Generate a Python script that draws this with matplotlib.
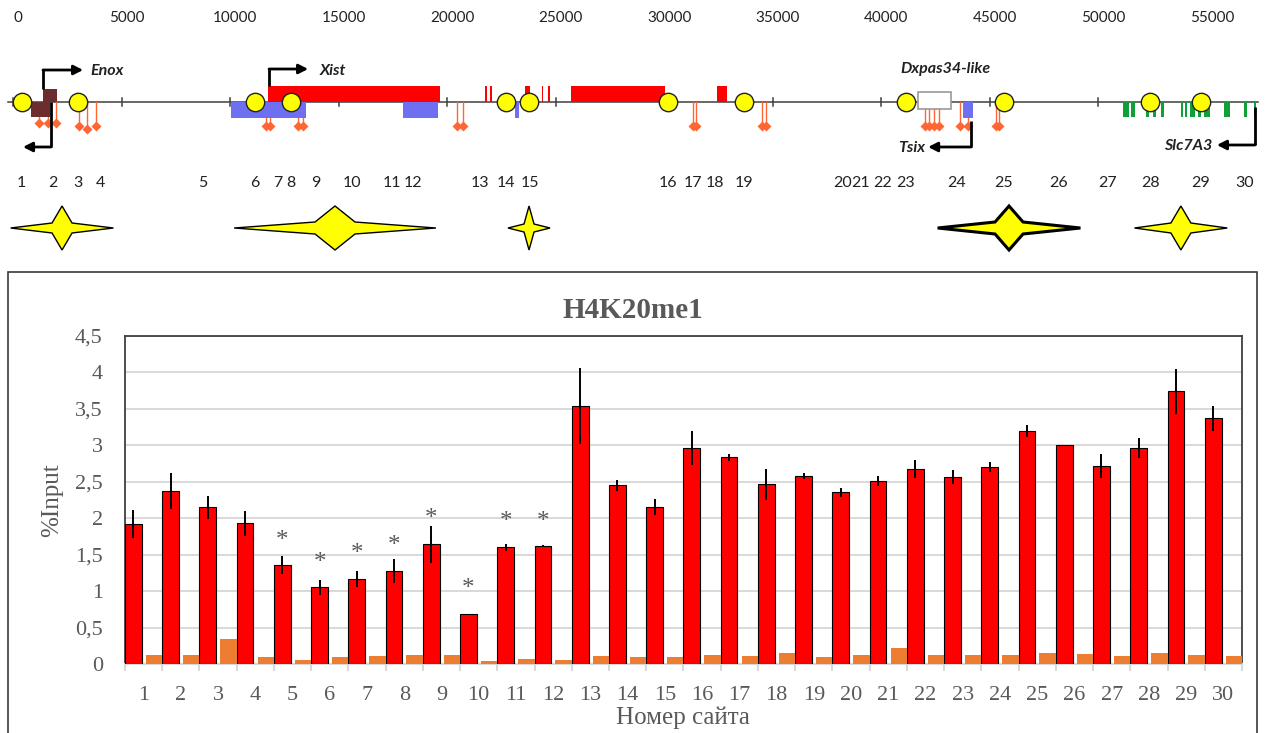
import numpy as np
import matplotlib
matplotlib.use("Agg")
import matplotlib.pyplot as plt
from matplotlib.patches import Rectangle, Polygon

# ---------------- locus map (coordinates in bp) ----------------
scale_marks = [0, 5000, 10000, 15000, 20000, 25000, 30000, 35000, 40000,
               45000, 50000, 55000]
site_bp = [400, 1850, 3000, 4050, 8750, 11150, 12200, 12800, 13950, 15600,
           17450, 18450, 21500, 22700, 23800, 30200, 31350, 32350, 33700,
           38250, 39050, 40050, 41150, 43500, 45650, 48200, 50450, 52400,
           54750, 56750]
site_names = [str(i) for i in range(1, 31)]
circle_sites = [1, 3, 6, 8, 14, 15, 16, 19, 23, 25, 28, 29]

enox_plus = [(1380, 2030)]
enox_minus = [(830, 1700)]
xist_exons = [(11750, 19680), (21750, 21840), (21980, 22070), (23590, 23820),
              (24380, 24420), (24650, 24750), (25710, 30050), (32440, 32900)]
tsix_exons = [(10050, 13500), (17970, 19590), (23130, 23320), (43780, 44240)]
slc7a3_exons = [(51150, 51430), (51520, 51700), (52210, 52350), (52530, 52670),
                (52900, 53040), (53820, 53920), (54010, 54100), (54240, 54470),
                (54610, 54750), (54880, 55160), (55800, 56080), (56730, 56870),
                (57190, 57280)]
dxpas_repeat = (41700, 43230)

pin_bp = [1200, 1610, 1980, 3040, 3410, 3820, 11660, 11840, 13130, 13360,
          20460, 20740, 31340, 31480, 34520, 34700, 42030, 42210, 42440,
          42670, 43640, 44010, 45300, 45440]
pin_end = [123, 123, 123, 126, 129, 126, 126, 126, 126, 126, 126, 126,
           126, 126, 126, 126, 126, 126, 126, 126, 126, 126, 126, 126]

# (label, x of turn, y start, y of horizontal, x of arrow tip)
tss_arrows = [("Enox", 1380, 89, 70, 3230),
              ("", 1750, 102, 147, 460),
              ("Xist", 11800, 86, 69, 13600),
              ("Tsix", 44150, 121, 147, 42170),
              ("Slc7A3", 57230, 107, 145, 55480)]
gene_labels = [("Enox", 3550, 71, "left"), ("Xist", 14150, 71, "left"),
               ("Dxpas34-like", 42950, 69, "center"),
               ("Tsix", 42030, 148, "right"), ("Slc7A3", 55250, 146, "right")]

# enhancer-like regions: centre, half length (bp)
star_center = [2260, 14840, 23780, 45900, 53820]
star_half = [2370, 4650, 970, 3290, 2140]

# ---------------- ChIP values (%Input) ----------------
sites = np.arange(1, 31)
h4k20me1 = [1.92, 2.37, 2.15, 1.93, 1.36, 1.05, 1.17, 1.28, 1.64, 0.68,
            1.60, 1.615, 3.54, 2.45, 2.15, 2.96, 2.835, 2.465, 2.575, 2.355,
            2.515, 2.675, 2.565, 2.70, 3.196, 3.00, 2.71, 2.96, 3.74, 3.37]
h4k20me1_err = [0.19, 0.25, 0.16, 0.17, 0.125, 0.10, 0.11, 0.167, 0.26, 0.01,
                0.045, 0.014, 0.525, 0.07, 0.108, 0.233, 0.046, 0.215, 0.04,
                0.064, 0.069, 0.12, 0.10, 0.07, 0.078, 0.005, 0.165, 0.14,
                0.31, 0.17]
control = [0.12, 0.12, 0.345, 0.09, 0.05, 0.09, 0.105, 0.13, 0.13, 0.04,
           0.075, 0.05, 0.105, 0.10, 0.097, 0.118, 0.11, 0.145, 0.097, 0.13,
           0.223, 0.13, 0.118, 0.13, 0.15, 0.14, 0.105, 0.15, 0.13, 0.105]
sig_sites = [5, 6, 7, 8, 9, 10, 11, 12]
sig_y = [1.78, 1.47, 1.60, 1.71, 2.07, 1.11, 2.03, 2.03]
yticks = [0, 0.5, 1, 1.5, 2, 2.5, 3, 3.5, 4, 4.5]

W, H = 1268, 733
GRAY = "#595959"
SERIF = "Liberation Serif"
SANS = "Lato"


def fig_box(x0, y0, x1, y1):
    return [x0 / W, 1 - y1 / H, (x1 - x0) / W, (y1 - y0) / H]


def px2bp(px):
    return (px - 13) / 0.0217


def star_outline(cx, half_w, cy, half_h, inner_w, inner_h):
    # four-pointed star: long horizontal arms, short vertical ones
    return [(cx + half_w, cy), (cx + inner_w, cy - inner_h), (cx, cy - half_h),
            (cx - inner_w, cy - inner_h), (cx - half_w, cy),
            (cx - inner_w, cy + inner_h), (cx, cy + half_h),
            (cx + inner_w, cy + inner_h)]


fig = plt.figure(figsize=(W / 100, H / 100), dpi=100)

# ---------------- map panel ----------------
am = fig.add_axes(fig_box(0, 0, W, 260))
am.set_xlim(px2bp(0), px2bp(W))
am.set_ylim(260, 0)
am.axis("off")
BP_PER_PX = px2bp(1) - px2bp(0)

LINE_Y = 102
am.plot([px2bp(8), px2bp(1258)], [LINE_Y, LINE_Y], color="#404040", lw=1.1, zorder=1)
for m in scale_marks:
    am.plot([m, m], [LINE_Y - 4, LINE_Y + 4], color="#404040", lw=1.1, zorder=1)
    am.text(m + 250, 18, str(m), ha="center", va="center", fontsize=11,
            family=SANS, color="#222222")

for b, yb in zip(pin_bp, pin_end):
    am.plot([b, b], [LINE_Y, yb], color="#ff6633", lw=1.0, zorder=1.5)
    am.plot(b, yb, marker="D", ms=5.5, color="#ff6633", mec="none", zorder=1.6)


def exon_boxes(spans, y0, h, color, z=2):
    for s, e in spans:
        am.add_patch(Rectangle((s, y0), e - s, h, facecolor=color,
                               edgecolor="none", zorder=z))


exon_boxes(xist_exons, 86, LINE_Y - 86, "#ff0000")
exon_boxes(tsix_exons, LINE_Y, 16, "#6f6ff2")
exon_boxes(slc7a3_exons, LINE_Y, 15, "#10a03a")
exon_boxes(enox_plus, 89, LINE_Y - 89, "#6b2d2d", z=2.2)
exon_boxes(enox_minus, LINE_Y, 15, "#6b2d2d", z=2.2)
am.add_patch(Rectangle((dxpas_repeat[0], 92), dxpas_repeat[1] - dxpas_repeat[0], 17,
                       facecolor="white", edgecolor="#9a9a9a", lw=1.2, zorder=2))

circ_x = [site_bp[s - 1] for s in circle_sites]
am.scatter(circ_x, [LINE_Y] * len(circ_x), s=175, color="#ffff00",
           edgecolors="#222222", linewidths=1.0, zorder=3)

for name, xt, y0, yh, xtip in tss_arrows:
    am.plot([xt, xt], [y0, yh], color="black", lw=2.0, solid_capstyle="butt", zorder=4)
    am.annotate("", xy=(xtip, yh), xytext=(xt, yh),
                arrowprops=dict(arrowstyle="-|>,head_length=0.55,head_width=0.28",
                                color="black", lw=2.0, shrinkA=0, shrinkB=0),
                zorder=4)
for name, xl, yl, ha in gene_labels:
    am.text(xl, yl, name, ha=ha, va="center", fontsize=11.5, family=SANS,
            fontweight="bold", fontstyle="italic", color="#222222")

for b, name in zip(site_bp, site_names):
    am.text(b, 183, name, ha="center", va="center", fontsize=11.5,
            family=SANS, color="#222222")

# inner vertex offsets (px) give each star its core width
star_inner = [(10, 5), (20, 6), (5, 4), (14, 6), (10, 5)]
for i, (cx, hw) in enumerate(zip(star_center, star_half)):
    iw, ih = star_inner[i]
    lw = 2.2 if i == 3 else 1.0
    am.add_patch(Polygon(star_outline(cx, hw, 228, 22, iw * BP_PER_PX, ih),
                         closed=True, facecolor="#ffff00", edgecolor="black",
                         lw=lw, joinstyle="miter", zorder=3))

# ---------------- bar chart panel ----------------
fig.patches.append(Rectangle((8 / W, 1 - 745 / H), (1257 - 8) / W, (745 - 272) / H,
                             transform=fig.transFigure, fill=False,
                             edgecolor="#3a3a3a", lw=1.2))
fig.text(633 / W, 1 - 310 / H, "H4K20me1", ha="center", va="center",
         fontsize=21, fontweight="bold", family=SERIF, color=GRAY)

ax = fig.add_axes(fig_box(125, 336, 1242, 664))
x = np.arange(len(sites))
ax.bar(x - 0.275, h4k20me1, width=0.45, color="#ff0000", edgecolor="black",
       linewidth=0.8, yerr=h4k20me1_err,
       error_kw=dict(ecolor="black", elinewidth=1.4, capsize=0), zorder=3)
ax.bar(x + 0.28, control, width=0.44, color="#ed7d31", zorder=3)

for s, ys in zip(sig_sites, sig_y):
    ax.annotate("*", (s - 1 - 0.275, ys), xytext=(0, -4.5),
                textcoords="offset points", ha="center", va="center",
                fontsize=18, family=SERIF, color=GRAY)

ax.set_xlim(-0.5, len(sites) - 0.5)
ax.set_ylim(0, 4.5)
ax.set_yticks(yticks)
ax.set_yticklabels([f"{v:g}".replace(".", ",") for v in yticks])
ax.set_xticks(x)
ax.set_xticklabels([str(s) for s in sites])
ax.set_xticks(np.arange(len(sites) + 1) - 0.5, minor=True)
ax.tick_params(axis="y", length=0, pad=16, labelsize=16, labelcolor=GRAY)
ax.tick_params(axis="x", which="major", length=0, pad=16, labelsize=16,
               labelcolor=GRAY)
ax.tick_params(axis="x", which="minor", length=5, width=1.5, color="#d9d9d9")
for lab in ax.get_xticklabels() + ax.get_yticklabels():
    lab.set_family(SERIF)
ax.yaxis.grid(True, color="#d9d9d9", lw=1.4)
ax.set_axisbelow(True)
for side in ("top", "left", "right"):
    ax.spines[side].set_color("#404040")
    ax.spines[side].set_linewidth(1.3)
ax.spines["bottom"].set_color("#d9d9d9")
ax.spines["bottom"].set_linewidth(1.6)

fig.text(52 / W, 1 - 500 / H, "%Input", rotation=90, ha="center", va="center",
         fontsize=18, family=SERIF, color=GRAY)
fig.text(683 / W, 1 - 718 / H, "Номер сайта", ha="center", va="center",
         fontsize=18, family=SERIF, color=GRAY)

fig.savefig("out.png", dpi=100)
